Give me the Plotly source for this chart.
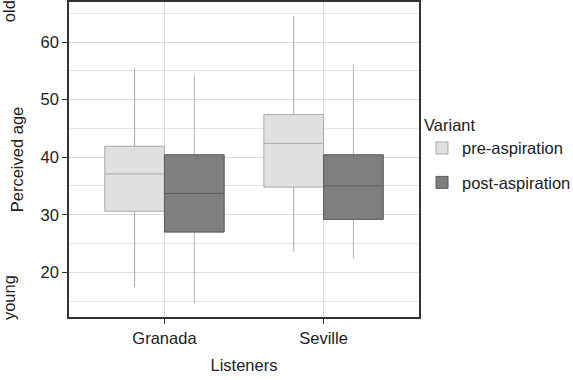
import plotly.graph_objects as go

listeners = ["Granada", "Seville"]

pre_low = [17.4, 23.6]
pre_q1 = [30.6, 34.8]
pre_med = [37.1, 42.4]
pre_q3 = [41.9, 47.4]
pre_high = [55.4, 64.5]

post_low = [14.6, 22.4]
post_q1 = [27.0, 29.2]
post_med = [33.7, 35.0]
post_q3 = [40.4, 40.4]
post_high = [54.2, 56.1]

FONT = "Liberation Sans, Arial, sans-serif"
FS = 16.5

fig = go.Figure()

fig.add_trace(go.Box(
    name="pre-aspiration", x=listeners, q1=pre_q1, median=pre_med, q3=pre_q3,
    lowerfence=pre_low, upperfence=pre_high,
    fillcolor="#e0e0e0", line=dict(color="#a9a9a9", width=1),
    whiskerwidth=0, offsetgroup="pre", boxpoints=False, hoverinfo="skip",
    legendgroup="pre",
))
# post-aspiration whiskers (light grey)
fig.add_trace(go.Box(
    name="post-aspiration", x=listeners, q1=post_q1, median=post_med, q3=post_q3,
    lowerfence=post_low, upperfence=post_high,
    fillcolor="#7f7f7f", line=dict(color="#b3b3b3", width=1),
    whiskerwidth=0, offsetgroup="post", boxpoints=False, hoverinfo="skip",
    showlegend=False, legendgroup="post",
))
# post-aspiration box body with dark outline / median
fig.add_trace(go.Box(
    name="post-aspiration", x=listeners, q1=post_q1, median=post_med, q3=post_q3,
    lowerfence=post_q1, upperfence=post_q3,
    fillcolor="#7f7f7f", line=dict(color="#5c5c5c", width=1),
    whiskerwidth=0, offsetgroup="post", boxpoints=False, hoverinfo="skip",
    legendgroup="post",
))

fig.update_layout(
    width=573, height=380,
    margin=dict(l=69, r=154, t=2, b=63, autoexpand=False),
    paper_bgcolor="white", plot_bgcolor="white",
    font=dict(family=FONT, size=FS, color="#222"),
    boxmode="group", boxgap=0.25, boxgroupgap=0,
    legend=dict(
        title=dict(text="Variant", font=dict(size=FS)),
        xref="container", x=0.7365, xanchor="left",
        y=0.515, yanchor="middle",
        font=dict(size=FS), traceorder="grouped", tracegroupgap=10,
        bgcolor="rgba(0,0,0,0)",
    ),
    xaxis=dict(
        type="category", range=[-0.6, 1.6],
        showline=True, linecolor="#333", linewidth=1.5, mirror=True,
        ticks="outside", ticklen=5, tickcolor="#333",
        tickfont=dict(size=FS),
        showgrid=True, gridcolor="#d9d9d9", gridwidth=1,
        title=dict(text="Listeners", standoff=14, font=dict(size=FS)),
        zeroline=False,
    ),
    yaxis=dict(
        range=[12.24, 66.95], tickvals=[20, 30, 40, 50, 60],
        showline=True, linecolor="#333", linewidth=1.5, mirror=True,
        ticks="outside", ticklen=5, tickcolor="#333",
        tickfont=dict(size=FS),
        showgrid=True, gridcolor="#dcdcdc", gridwidth=1,
        minor=dict(tickvals=[15, 25, 35, 45, 55, 65], showgrid=True,
                   gridcolor="#e6e6e6", gridwidth=1),
        title=dict(text="Perceived age", standoff=13, font=dict(size=FS)),
        zeroline=False,
    ),
    annotations=[
        dict(text="old", xref="paper", yref="paper", x=0, y=0.971,
             xshift=-60, textangle=-90, showarrow=False,
             xanchor="center", yanchor="middle", font=dict(size=FS)),
        dict(text="young", xref="paper", yref="paper", x=0, y=0.06,
             xshift=-60, textangle=-90, showarrow=False,
             xanchor="center", yanchor="middle", font=dict(size=FS)),
    ],
)

fig.write_html("out.html", config={"displayModeBar": False},
               post_script="document.body.style.margin='0';")
